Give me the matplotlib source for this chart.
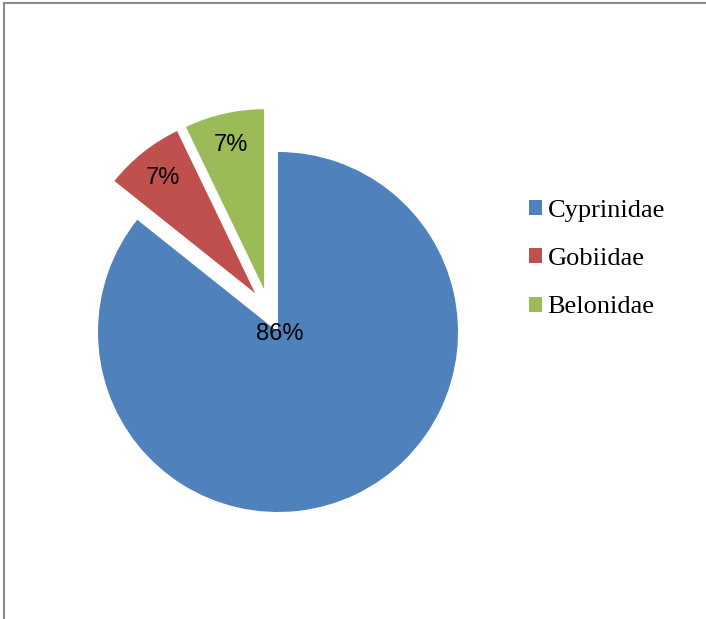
import numpy as np
import matplotlib.pyplot as plt
from matplotlib.lines import Line2D
from matplotlib.patches import Patch

# dados (contagem por familia)
familias = ['Cyprinidae', 'Gobiidae', 'Belonidae']
contagens = [12, 1, 1]
cores = ['#4F81BD', '#C0504D', '#9BBB59']
explode = [0, 0.25, 0.25]
# direcao do deslocamento (graus) estilo Excel
angulo_explode = [None, 120.5, 108.0]

fig = plt.figure(figsize=(7.06, 6.19), dpi=100)

# eixo quadrado do tamanho do circulo
W, H = 706, 619
cx, cy, r = 278, 332, 180
ax = fig.add_axes([(cx - r) / W, (H - cy - r) / H, 2 * r / W, 2 * r / H])

wedges, textos, autotextos = ax.pie(
    contagens, colors=cores, explode=explode, startangle=90,
    counterclock=False, autopct='%1.0f%%', pctdistance=0.82,
    textprops={'fontsize': 17, 'family': 'Liberation Sans', 'color': 'black'},
    wedgeprops={'linewidth': 0})

# reposiciona as fatias destacadas
for w, t, e, ang in zip(wedges, autotextos, explode, angulo_explode):
    w.set_clip_on(False)
    if ang is None:
        continue
    x0, y0 = w.center
    nx, ny = e * np.cos(np.radians(ang)), e * np.sin(np.radians(ang))
    w.set_center((nx, ny))
    tx, ty = t.get_position()
    t.set_position((tx + nx - x0, ty + ny - y0))

# rotulo da fatia maior no centro
autotextos[0].set_position((0.01, -0.01))

ax.set_xlim(-1, 1)
ax.set_ylim(-1, 1)
ax.set_aspect('auto')
ax.axis('off')

# legenda
handles = [Patch(facecolor=c, edgecolor='none') for c in cores]
fig.legend(handles, familias, loc='center left',
           bbox_to_anchor=(529 / W, 1 - 259 / H), frameon=False,
           prop={'family': 'Liberation Serif', 'size': 19},
           handlelength=0.5, handleheight=0.5, handletextpad=0.2,
           labelspacing=1.0, borderpad=0, borderaxespad=0)

# borda (apenas topo e esquerda)
fig.add_artist(Line2D([3.5 / W, 1], [1 - 2.5 / H, 1 - 2.5 / H],
                      transform=fig.transFigure, color='#8c8c8c', lw=1.5))
fig.add_artist(Line2D([3.5 / W, 3.5 / W], [0, 1 - 2.5 / H],
                      transform=fig.transFigure, color='#8c8c8c', lw=1.5))

fig.savefig('out.png', dpi=100)
